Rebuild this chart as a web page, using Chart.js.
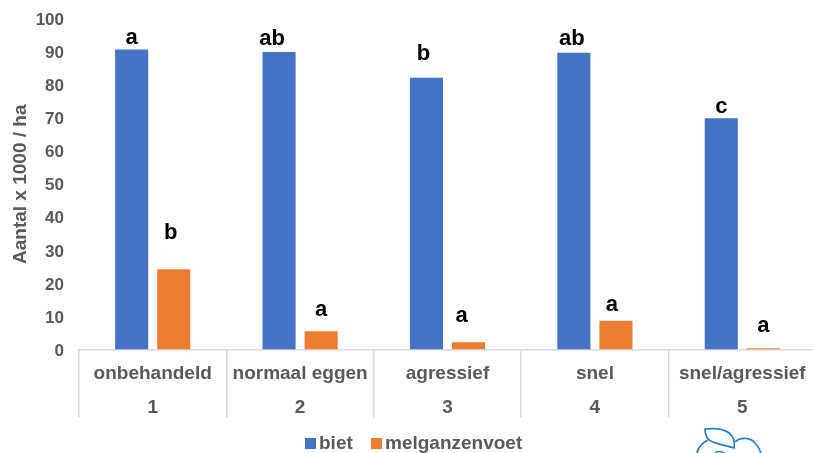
<!DOCTYPE html>
<html>
<head>
<meta charset="utf-8">
<title>Aantal x 1000 / ha</title>
<script src="https://cdn.jsdelivr.net/npm/chart.js@4/dist/chart.umd.min.js"></script>
<style>
  html, body { margin: 0; padding: 0; background: #fff; overflow: hidden; }
  #wrap { position: relative; width: 813px; height: 453px; overflow: hidden; }
  #logo { position: absolute; left: 680px; top: 420px; }
</style>
</head>
<body>
<div id="wrap">
  <!-- canvas runs a bit past the window, the axis is cut off at the edge in the original too -->
  <canvas id="chart" width="816" height="453"></canvas>
  <svg id="logo" width="90" height="33" fill="none" stroke="#1f7fc4" stroke-width="1.7">
    <path d="M25 9 C34 8 44 9 49 13 C54 17 55 23 54 28 C48 26 40 25 33 22 C27 20 25 14 25 9 Z"/>
    <path d="M28 20 C22 23 18 28 17 33"/>
    <path d="M55 22 C60 17 70 17 75 23 C78 26 80 30 81 33"/>
    <path d="M35 33 C38 31 41 31 44 33"/>
  </svg>
</div>
<script>
// chart data
const treatments = ["onbehandeld", "normaal eggen", "agressief", "snel", "snel/agressief"];
const treatmentNumbers = ["1", "2", "3", "4", "5"];
const biet = [90.8, 90, 82.2, 89.8, 70];
const melganzenvoet = [24.3, 5.5, 2.2, 8.7, 0.4];
const bietLetters = ["a", "ab", "b", "ab", "c"];
const melganzenvoetLetters = ["b", "a", "a", "a", "a"];

const grey = "#595959";
const fontName = "'Liberation Sans', Arial, sans-serif";

// letters above the bars, they are not placed evenly in the original
const lettersPlugin = {
  id: "letters",
  afterDatasetsDraw(chart) {
    const ctx = chart.ctx;
    const sets = [bietLetters, melganzenvoetLetters];
    const lifts = [[11, 13, 24, 14, 11], [36, 21, 26, 16, 22]];
    const shifts = [[0, -7, -3, -2, 0], [-3, 0, -7, -4, 0]];
    ctx.save();
    ctx.fillStyle = "#000";
    ctx.font = "bold 22px " + fontName;
    ctx.textAlign = "center";
    ctx.textBaseline = "middle";
    sets.forEach((letters, d) => {
      chart.getDatasetMeta(d).data.forEach((bar, i) => {
        ctx.fillText(letters[i], bar.x + shifts[d][i], bar.y - lifts[d][i]);
      });
    });
    ctx.restore();
  },
};

// legend with the small gap between box and text
const legendPlugin = {
  id: "smallLegend",
  afterDraw(chart) {
    const ctx = chart.ctx;
    const starts = [305, 371];
    ctx.save();
    ctx.font = "bold 19px " + fontName;
    ctx.textBaseline = "middle";
    chart.data.datasets.forEach((set, i) => {
      ctx.fillStyle = set.backgroundColor;
      ctx.fillRect(starts[i], 438, 11, 11);
      ctx.fillStyle = grey;
      ctx.fillText(set.label, starts[i] + 14, 444);
    });
    ctx.restore();
  },
};

new Chart(document.getElementById("chart"), {
  type: "bar",
  data: {
    labels: treatments.map((t, i) => [t, treatmentNumbers[i]]),
    datasets: [
      { label: "biet", data: biet, backgroundColor: "#4472c4" },
      { label: "melganzenvoet", data: melganzenvoet, backgroundColor: "#ed7d31" },
    ],
  },
  options: {
    responsive: false,
    animation: false,
    layout: { padding: { top: 19, right: 0, bottom: 25, left: 0 } },
    datasets: { bar: { barPercentage: 0.786, categoryPercentage: 0.571 } },
    plugins: {
      tooltip: { enabled: false },
      legend: { display: false },
    },
    scales: {
      x: {
        grid: {
          offset: true,
          drawOnChartArea: false,
          color: "#d9d9d9",
          lineWidth: 1.5,
          tickLength: 68,
        },
        border: { color: "#d9d9d9", width: 1.5 },
        ticks: {
          color: grey,
          padding: -61,
          maxRotation: 0,
          autoSkip: false,
          font: { family: fontName, size: 19, weight: "bold", lineHeight: 1.8 },
        },
        afterFit(scale) { scale.height = 78.5; },
      },
      y: {
        min: 0,
        max: 100,
        grid: { display: false },
        border: { display: false },
        ticks: {
          stepSize: 10,
          color: grey,
          padding: 7,
          labelOffset: 1.5,
          font: { family: fontName, size: 17, weight: "bold" },
        },
        title: {
          display: true,
          text: "Aantal x 1000 / ha",
          color: grey,
          padding: 9,
          font: { family: fontName, size: 19, weight: "bold" },
        },
        afterFit(scale) { scale.width = 79; },
      },
    },
  },
  plugins: [lettersPlugin, legendPlugin],
});
</script>
</body>
</html>
